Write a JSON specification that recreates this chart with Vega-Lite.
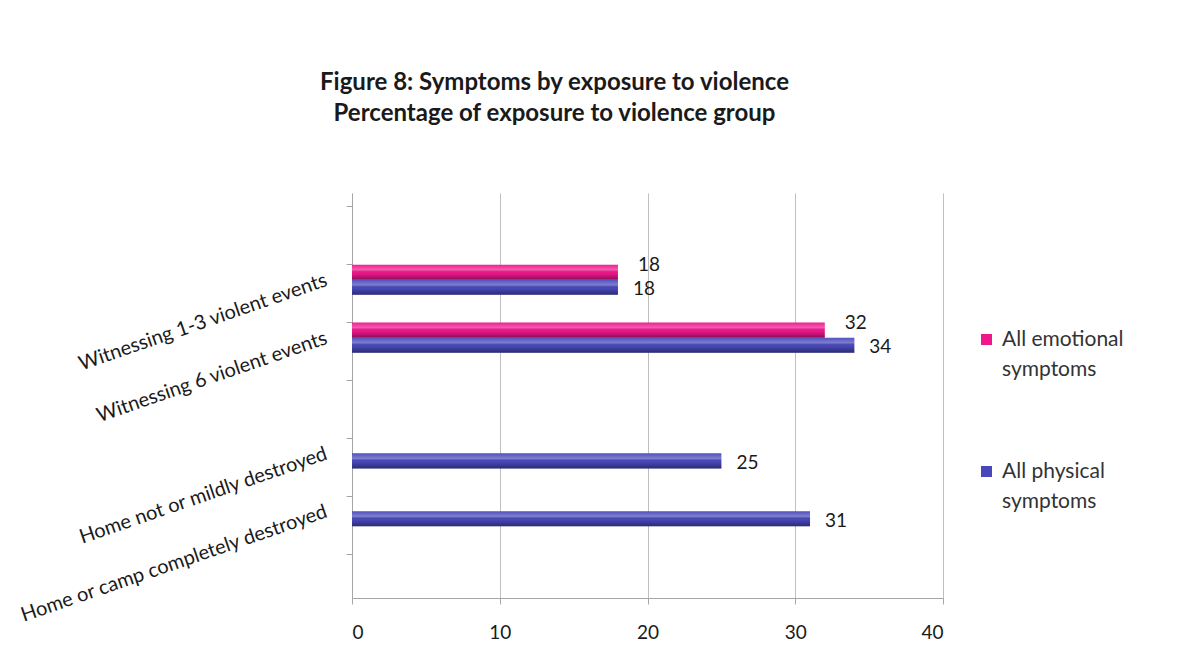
{
  "$schema": "https://vega.github.io/schema/vega-lite/v6.json",
  "autosize": {"type": "none"},
  "width": 591,
  "height": 405,
  "padding": {"left": 352, "top": 193, "right": 235, "bottom": 73},
  "background": "white",
  "title": {
    "text": ["Figure 8: Symptoms by exposure to violence", "Percentage of exposure to violence group"],
    "font": "Lato",
    "fontSize": 24,
    "fontWeight": "bold",
    "color": "#1a1a1a",
    "anchor": "middle",
    "dx": -93,
    "offset": 67,
    "lineHeight": 31
  },
  "config": {
    "font": "Lato",
    "view": {"stroke": null}
  },
  "data": {
    "values": [
      {"group": "Witnessing 1-3 violent events", "series": "All emotional symptoms", "pct": 18},
      {"group": "Witnessing 1-3 violent events", "series": "All physical symptoms", "pct": 18},
      {"group": "Witnessing 6 violent events", "series": "All emotional symptoms", "pct": 32},
      {"group": "Witnessing 6 violent events", "series": "All physical symptoms", "pct": 34},
      {"group": "Home not or mildly destroyed", "series": "All physical symptoms", "pct": 25},
      {"group": "Home or camp completely destroyed", "series": "All physical symptoms", "pct": 31}
    ]
  },
  "encoding": {
    "y": {
      "field": "group",
      "type": "nominal",
      "title": null,
      "scale": {
        "domain": ["gap1", "Witnessing 1-3 violent events", "Witnessing 6 violent events", "gap2", "Home not or mildly destroyed", "Home or camp completely destroyed", "gap3"],
        "paddingInner": 0.48,
        "paddingOuter": 0.24
      },
      "axis": {
        "bandPosition": 0,
        "labelExpr": "indexof(datum.label, 'gap') == 0 ? '' : datum.label",
        "labelAngle": -19,
        "labelAlign": "right",
        "labelBaseline": "middle",
        "labelFontSize": 20,
        "labelColor": "#1a1a1a",
        "labelPadding": 20,
        "labelLimit": 400,
        "domainColor": "#a6a6a6",
        "tickColor": "#a6a6a6",
        "tickSize": 6,
        "grid": false
      }
    },
    "yOffset": {
      "field": "series",
      "type": "nominal",
      "scale": {"domain": ["All emotional symptoms", "All physical symptoms"]}
    },
    "x": {
      "field": "pct",
      "type": "quantitative",
      "title": null,
      "scale": {"domain": [0, 40], "nice": false},
      "axis": {
        "values": [0, 10, 20, 30, 40],
        "labelFontSize": 19,
        "labelColor": "#1a1a1a",
        "labelPadding": 19,
        "domainColor": "#a6a6a6",
        "tickColor": "#a6a6a6",
        "tickSize": 6,
        "gridColor": "#bfbfbf",
        "grid": true
      }
    }
  },
  "layer": [
    {
      "mark": {"type": "bar"},
      "encoding": {
        "color": {
          "field": "series",
          "type": "nominal",
          "scale": {
            "domain": ["All emotional symptoms", "All physical symptoms"],
            "range": ["#f0168c", "#4848bc"]
          },
          "legend": {
            "orient": "none",
            "legendX": 624,
            "legendY": 136,
            "title": null,
            "symbolType": "square",
            "symbolSize": 121,
            "symbolStrokeWidth": 0,
            "labelFontSize": 21,
            "labelColor": "#333333",
            "labelLimit": 200,
            "labelOffset": 5,
            "labelExpr": "datum.label == 'All emotional symptoms' ? ['All emotional', 'symptoms'] : ['All physical', 'symptoms']",
            "rowPadding": 80,
            "encode": {"labels": {"update": {"lineHeight": {"value": 30}}}}
          }
        }
      }
    },
    {
      "mark": {
        "type": "bar",
        "fill": {
          "gradient": "linear",
          "x1": 0, "y1": 0, "x2": 0, "y2": 1,
          "stops": [
            {"offset": 0, "color": "rgba(255,255,255,0.05)"},
            {"offset": 0.35, "color": "rgba(255,255,255,0.3)"},
            {"offset": 0.55, "color": "rgba(0,0,0,0)"},
            {"offset": 1, "color": "rgba(0,0,0,0.4)"}
          ]
        }
      }
    },
    {
      "transform": [{"filter": "datum.series == 'All emotional symptoms'"}],
      "mark": {"type": "text", "align": "left", "baseline": "middle", "dx": 20, "dy": -7, "fontSize": 19, "color": "#1a1a1a"},
      "encoding": {"text": {"field": "pct", "type": "quantitative"}}
    },
    {
      "transform": [{"filter": "datum.series == 'All physical symptoms'"}],
      "mark": {"type": "text", "align": "left", "baseline": "middle", "dx": 15, "dy": 2, "fontSize": 19, "color": "#1a1a1a"},
      "encoding": {"text": {"field": "pct", "type": "quantitative"}}
    }
  ]
}
